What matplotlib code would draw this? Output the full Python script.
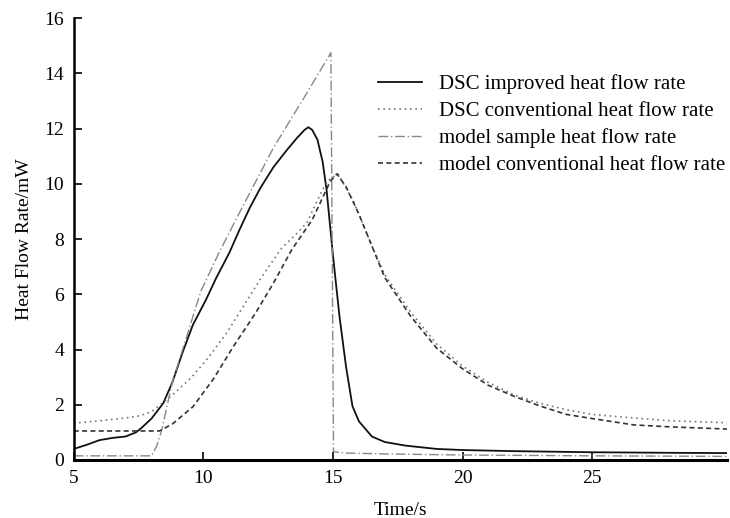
import matplotlib
matplotlib.use("Agg")
import matplotlib.pyplot as plt

plt.rcParams['font.family'] = ['Liberation Serif', 'DejaVu Serif']

# DSC improved heat flow rate (solid)
t_imp = [5.0, 5.5, 6.0, 6.5, 7.0, 7.4, 7.6, 8.0, 8.45, 8.8, 9.2, 9.6, 10.1, 10.5, 11.0,
         11.4, 11.8, 12.2, 12.7, 13.2, 13.6, 13.9, 14.05, 14.2, 14.4, 14.6, 14.75, 15.0,
         15.25, 15.5, 15.75, 16.0, 16.5, 17.0, 17.8, 19.0, 20.0, 22.0, 25.0, 28.0, 30.2]
q_imp = [0.4, 0.55, 0.72, 0.8, 0.85, 1.0, 1.15, 1.5, 2.05, 2.8, 3.9, 4.9, 5.8, 6.6, 7.5,
         8.35, 9.15, 9.85, 10.6, 11.2, 11.65, 11.95, 12.05, 11.95, 11.6, 10.8, 9.8, 7.4,
         5.2, 3.4, 1.95, 1.4, 0.85, 0.65, 0.52, 0.4, 0.36, 0.32, 0.28, 0.26, 0.25]

# DSC conventional heat flow rate (dotted)
t_conv = [5.0, 6.0, 7.0, 7.55, 8.0, 8.8, 9.5, 10.1, 10.9, 11.7, 12.3, 13.0, 13.6, 14.0,
          14.6, 14.9, 15.2, 15.8, 16.5, 17.0, 18.0, 19.0, 20.0, 21.0, 22.0, 23.0, 24.0,
          25.0, 26.6, 28.0, 30.2]
q_conv = [1.33, 1.42, 1.52, 1.6, 1.75, 2.35, 2.95, 3.6, 4.6, 5.8, 6.7, 7.65, 8.2, 8.6,
          9.8, 10.2, 10.35, 9.35, 7.75, 6.7, 5.35, 4.2, 3.4, 2.8, 2.35, 2.05, 1.82,
          1.65, 1.52, 1.42, 1.35]

# model sample heat flow rate (dash-dot)
t_msam = [5.0, 8.0, 8.2, 8.4, 8.8, 9.4, 9.9, 10.6, 11.5, 12.7, 14.0, 14.92, 15.02,
          15.5, 17.0, 20.0, 25.0, 30.2]
q_msam = [0.15, 0.15, 0.5, 1.1, 2.8, 4.6, 6.1, 7.5, 9.15, 11.3, 13.3, 14.75, 0.3,
          0.25, 0.22, 0.18, 0.15, 0.13]

# model conventional heat flow rate (dashed)
t_mconv = [5.0, 8.3, 8.8, 9.6, 10.4, 11.15, 12.0, 12.7, 13.4, 14.2, 14.9, 15.15, 15.5,
           16.0, 17.0, 18.0, 19.0, 20.0, 21.0, 22.0, 23.0, 24.0, 25.0, 26.6, 28.0, 30.2]
q_mconv = [1.05, 1.05, 1.3, 1.93, 2.95, 4.1, 5.3, 6.4, 7.6, 8.7, 10.1, 10.36, 9.9,
           8.9, 6.6, 5.2, 4.05, 3.3, 2.7, 2.3, 1.95, 1.65, 1.5, 1.27, 1.2, 1.12]

fig = plt.figure(figsize=(7.3, 5.18), dpi=100)
ax = fig.add_axes([0.101, 0.112, 0.895, 0.853])

ax.plot(t_imp, q_imp, color='#111111', lw=1.3, label='DSC improved heat flow rate')
ax.plot(t_conv, q_conv, color='#777777', lw=1.2, linestyle=(0, (1, 2.2)),
        label='DSC conventional heat flow rate')
ax.plot(t_msam, q_msam, color='#888888', lw=1.0, linestyle=(0, (7, 2, 1, 2)),
        label='model sample heat flow rate')
ax.plot(t_mconv, q_mconv, color='#333333', lw=1.2, linestyle=(0, (3, 2)),
        label='model conventional heat flow rate')

ax.set_xlim(5, 30.2)
ax.set_ylim(0, 16)
ax.set_xticks([5, 10, 15, 20, 25])
ax.set_yticks(range(0, 17, 2))

for s in ['top', 'right']:
    ax.spines[s].set_visible(False)
ax.spines['left'].set_linewidth(1.8)
ax.spines['bottom'].set_linewidth(2.2)
ax.tick_params(direction='in', length=6, width=1.2, labelsize=14, pad=7)

ax.set_xlabel('Time/s', fontsize=14, labelpad=11)
ax.set_ylabel('Heat Flow Rate/mW', fontsize=14, labelpad=8)

leg = ax.legend(loc='upper left', bbox_to_anchor=(0.437, 0.915), frameon=False,
                fontsize=15, labelspacing=0.35, handlelength=2.1, handletextpad=0.85)

fig.savefig('out.png', dpi=100)
